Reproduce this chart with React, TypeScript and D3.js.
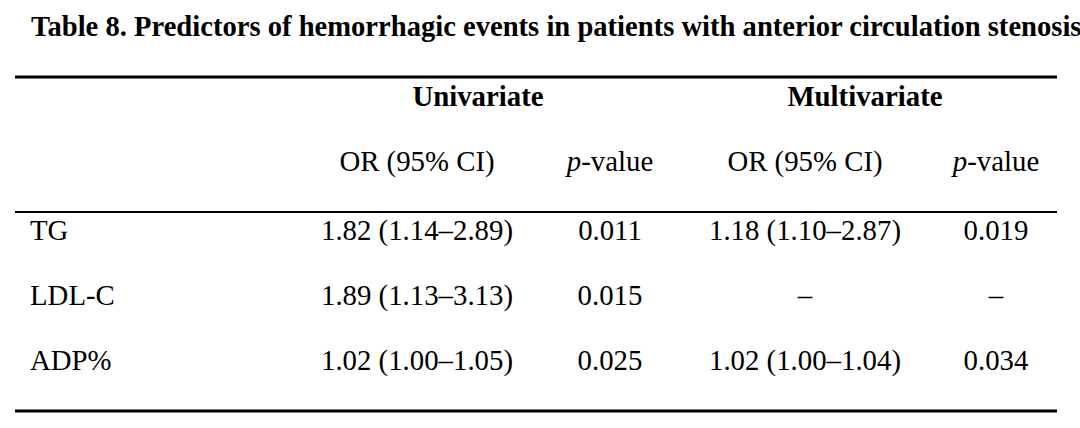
import React from "react";
import * as d3 from "d3";

const title = "Table 8. Predictors of hemorrhagic events in patients with anterior circulation stenosis";
const groups = ["Univariate", "Multivariate"];
const subHeaders = ["OR (95% CI)", "p-value", "OR (95% CI)", "p-value"];
const rowLabels = ["TG", "LDL-C", "ADP%"];
const uniOR = ["1.82 (1.14–2.89)", "1.89 (1.13–3.13)", "1.02 (1.00–1.05)"];
const uniP = ["0.011", "0.015", "0.025"];
const multiOR = ["1.18 (1.10–2.87)", "–", "1.02 (1.00–1.04)"];
const multiP = ["0.019", "–", "0.034"];

const W = 1080;
const H = 428;
const FONT = "'Liberation Serif', 'Times New Roman', serif";

export default function App() {
  const colX = d3.scaleOrdinal<number, number>().domain([0, 1, 2, 3]).range([417, 610, 805, 996]);
  const groupX = d3.scaleOrdinal<number, number>().domain([0, 1]).range([478, 865]);
  const rowY = d3.scalePoint<number>().domain([0, 1, 2]).range([240, 370]);
  const cols = [uniOR, uniP, multiOR, multiP];
  const fs = 28.8;
  return (
    <svg width={W} height={H} style={{ position: "absolute", left: 0, top: 0, background: "#fff" }} fontFamily={FONT}>
      <rect x={0} y={0} width={W} height={H} fill="#fff" />
      <text x={31} y={36} fontSize={28.6} fontWeight="bold" fill="#000">{title}</text>
      <line x1={15} x2={1057} y1={77} y2={77} stroke="#000" strokeWidth={3} />
      {groups.map((g, i) => (
        <text key={g} x={groupX(i)} y={106} textAnchor="middle" fontSize={fs} fontWeight="bold" fill="#000">{g}</text>
      ))}
      {subHeaders.map((s, i) => (
        <text key={i} x={colX(i)} y={171} textAnchor="middle" fontSize={fs} fill="#000">
          {s === "p-value" ? (<><tspan fontStyle="italic">p</tspan>-value</>) : s}
        </text>
      ))}
      <line x1={15} x2={1057} y1={212} y2={212} stroke="#000" strokeWidth={2} />
      {rowLabels.map((r, ri) => (
        <g key={r}>
          <text x={30} y={rowY(ri)} fontSize={fs} fill="#000">{r}</text>
          {cols.map((c, ci) => (
            <text key={ci} x={colX(ci)} y={rowY(ri)} textAnchor="middle" fontSize={fs} fill="#000">{c[ri]}</text>
          ))}
        </g>
      ))}
      <line x1={15} x2={1057} y1={411} y2={411} stroke="#000" strokeWidth={3} />
    </svg>
  );
}
